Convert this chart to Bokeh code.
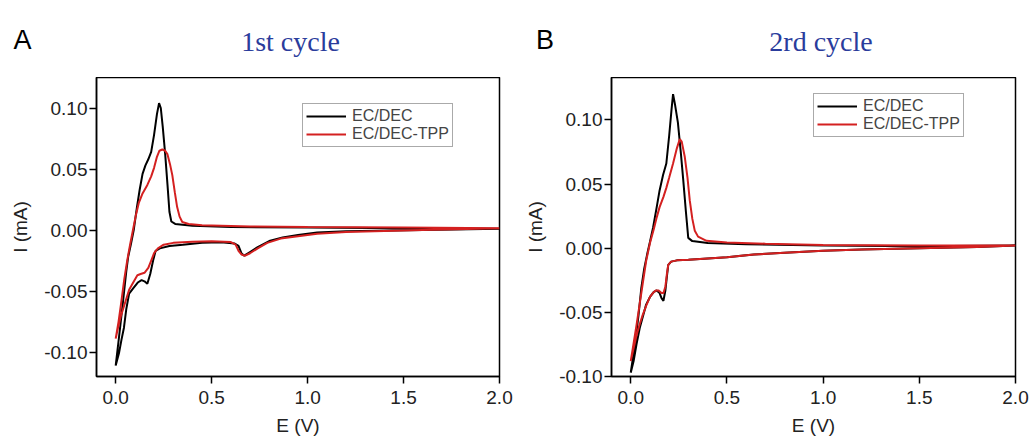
from bokeh.plotting import figure
from bokeh.layouts import row, column
from bokeh.models import Legend, LegendItem, FixedTicker, PrintfTickFormatter, Range1d
from bokeh.core.properties import value
from bokeh.embed import file_html
from bokeh.resources import INLINE

# ---------------- data ----------------
# Panel A, 1st cycle
A_black_E = [0.000, 0.012, 0.025, 0.040, 0.055, 0.065, 0.080, 0.094, 0.110, 0.125, 0.140, 0.155,
             0.170, 0.185, 0.200, 0.215, 0.226, 0.235, 0.245, 0.258, 0.270, 0.280, 0.290, 0.310,
             0.400, 0.600, 1.000, 1.500, 2.000,
             1.600, 1.200, 1.050, 0.950, 0.870, 0.800, 0.740, 0.700, 0.670, 0.655, 0.640, 0.620,
             0.550, 0.450, 0.350, 0.280, 0.230, 0.208, 0.195, 0.180, 0.165, 0.150, 0.135, 0.115,
             0.095, 0.070, 0.055, 0.043, 0.030, 0.017, 0.000]
A_black_I = [-0.111, -0.095, -0.077, -0.056, -0.034, -0.022, -0.011, 0.000, 0.018, 0.033, 0.046, 0.053,
             0.058, 0.064, 0.078, 0.095, 0.104, 0.100, 0.085, 0.062, 0.037, 0.015, 0.007, 0.005,
             0.0035, 0.0025, 0.002, 0.0015, 0.001,
             0.000, -0.001, -0.002, -0.004, -0.006, -0.009, -0.014, -0.018, -0.021, -0.019, -0.013, -0.011,
             -0.010, -0.0105, -0.012, -0.013, -0.015, -0.017, -0.025, -0.036, -0.044, -0.042, -0.041, -0.043,
             -0.047, -0.052, -0.065, -0.080, -0.090, -0.101, -0.111]
A_red_E = [0.000, 0.015, 0.030, 0.045, 0.060, 0.075, 0.090, 0.105, 0.120, 0.140, 0.165, 0.185,
           0.200, 0.215, 0.228, 0.243, 0.258, 0.270, 0.283, 0.295, 0.308, 0.320, 0.333, 0.347,
           0.380, 0.450, 0.700, 1.000, 1.500, 2.000,
           1.600, 1.200, 1.050, 0.950, 0.860, 0.790, 0.740, 0.700, 0.675, 0.655, 0.640, 0.625,
           0.600, 0.500, 0.400, 0.300, 0.250, 0.220, 0.200, 0.185, 0.170, 0.150, 0.130, 0.113,
           0.095, 0.070, 0.050, 0.026, 0.012, 0.000]
A_red_I = [-0.089, -0.075, -0.058, -0.040, -0.025, -0.012, 0.000, 0.012, 0.022, 0.030, 0.037, 0.044,
           0.051, 0.060, 0.065, 0.066, 0.065, 0.062, 0.054, 0.045, 0.031, 0.019, 0.011, 0.0066,
           0.005, 0.004, 0.003, 0.0025, 0.002, 0.0015,
           0.000, -0.0015, -0.003, -0.005, -0.007, -0.0105, -0.015, -0.019, -0.021, -0.020, -0.017, -0.012,
           -0.0098, -0.0092, -0.0095, -0.0105, -0.012, -0.015, -0.019, -0.025, -0.031, -0.035, -0.036, -0.037,
           -0.042, -0.049, -0.059, -0.071, -0.080, -0.089]

# Panel B, 2nd cycle
B_black_E = [0.000, 0.020, 0.040, 0.055, 0.070, 0.085, 0.100, 0.116, 0.135, 0.150, 0.168, 0.185,
             0.200, 0.212, 0.220, 0.230, 0.245, 0.260, 0.273, 0.287, 0.299, 0.320, 0.400, 0.600,
             1.000, 1.500, 2.000,
             1.800, 1.500, 1.200, 1.000, 0.800, 0.640, 0.500, 0.400, 0.300, 0.240, 0.210, 0.195,
             0.188, 0.180, 0.170, 0.160, 0.150, 0.135, 0.120, 0.100, 0.080, 0.060, 0.047, 0.030,
             0.015, 0.000]
B_black_I = [-0.097, -0.077, -0.053, -0.031, -0.016, -0.005, 0.005, 0.016, 0.032, 0.045, 0.057, 0.066,
             0.088, 0.108, 0.120, 0.112, 0.098, 0.075, 0.053, 0.028, 0.008, 0.0055, 0.004, 0.003,
             0.002, 0.0015, 0.002,
             0.001, 0.000, -0.001, -0.002, -0.0035, -0.005, -0.007, -0.008, -0.009, -0.0095, -0.0105, -0.013,
             -0.022, -0.033, -0.041, -0.039, -0.035, -0.033, -0.034, -0.038, -0.044, -0.055, -0.062, -0.075,
             -0.088, -0.097]
B_red_E = [0.000, 0.015, 0.030, 0.045, 0.060, 0.080, 0.100, 0.120, 0.135, 0.150, 0.170, 0.185,
           0.200, 0.220, 0.240, 0.255, 0.265, 0.281, 0.295, 0.307, 0.320, 0.333, 0.350, 0.394,
           0.500, 0.700, 1.000, 1.500, 2.000,
           1.800, 1.500, 1.200, 1.000, 0.800, 0.640, 0.500, 0.400, 0.300, 0.240, 0.210, 0.195,
           0.188, 0.180, 0.170, 0.160, 0.145, 0.130, 0.115, 0.100, 0.080, 0.060, 0.045, 0.030,
           0.015, 0.000]
B_red_I = [-0.088, -0.074, -0.060, -0.045, -0.030, -0.010, 0.004, 0.015, 0.024, 0.032, 0.040, 0.047,
           0.055, 0.066, 0.078, 0.085, 0.083, 0.071, 0.055, 0.037, 0.023, 0.0135, 0.009, 0.0057,
           0.0045, 0.0035, 0.0025, 0.002, 0.002,
           0.001, 0.000, -0.001, -0.002, -0.0035, -0.005, -0.007, -0.008, -0.009, -0.0095, -0.0105, -0.013,
           -0.020, -0.030, -0.035, -0.035, -0.033, -0.033, -0.035, -0.038, -0.045, -0.053, -0.060, -0.068,
           -0.078, -0.088]

series_names = ["EC/DEC", "EC/DEC-TPP"]
x_ticks = [0.0, 0.5, 1.0, 1.5, 2.0]
y_ticks = [-0.10, -0.05, 0.00, 0.05, 0.10]
titles = ["1st cycle", "2rd cycle"]
panel_letters = ["A", "B"]

BLACK = "#000000"
RED = "#d42020"
BLUE = "#2a3c9c"
HEADER_H = 77
TOTAL_W = 1031


def make_header():
    h = figure(width=TOTAL_W, height=HEADER_H, output_backend="svg", toolbar_location=None,
               x_range=Range1d(0, TOTAL_W), y_range=Range1d(HEADER_H, 0),
               x_axis_location=None, y_axis_location=None,
               min_border_left=0, min_border_right=0, min_border_top=0, min_border_bottom=0,
               background_fill_color="white", border_fill_color="white")
    h.grid.visible = False
    h.outline_line_color = None
    h.text(x=[290, 820.5], y=[41, 41], text=titles, text_align="center", text_baseline="alphabetic",
           text_font=value("Liberation Serif"), text_font_size="28px", text_color=BLUE)
    h.text(x=[22, 544.5], y=[39, 39], text=panel_letters, text_align="center", text_baseline="alphabetic",
           text_font=value("Liberation Sans"), text_font_size="27px", text_color="black")
    return h


def make_panel(bE, bI, rE, rI, yr, width, leg_loc):
    p = figure(width=width, height=441 - HEADER_H, output_backend="svg", toolbar_location=None,
               x_range=Range1d(-0.1, 2.0), y_range=Range1d(*yr),
               min_border_left=96, min_border_right=16, min_border_top=0, min_border_bottom=65,
               background_fill_color="white", border_fill_color="white")
    p.grid.visible = False
    p.outline_line_color = "black"
    p.outline_line_width = 1.5
    rb = p.line(bE, bI, line_color=BLACK, line_width=2)
    rr = p.line(rE, rI, line_color=RED, line_width=2)

    for ax in (p.xaxis[0], p.yaxis[0]):
        ax.axis_line_width = 1.5
        ax.major_tick_line_width = 1.5
        ax.major_tick_out = 7
        ax.major_tick_in = 0
        ax.minor_tick_line_color = None
        ax.major_label_text_font = "Liberation Sans"
        ax.major_label_text_font_size = "19px"
        ax.major_label_text_color = "#222222"
        ax.axis_label_text_font = "Liberation Sans"
        ax.axis_label_text_font_size = "19px"
        ax.axis_label_text_font_style = "normal"
        ax.axis_label_text_color = "#222222"
    p.xaxis[0].major_label_standoff = 7
    p.yaxis[0].major_label_standoff = 2
    p.xaxis[0].ticker = FixedTicker(ticks=x_ticks)
    p.yaxis[0].ticker = FixedTicker(ticks=y_ticks)
    p.xaxis[0].formatter = PrintfTickFormatter(format="%.1f")
    p.yaxis[0].formatter = PrintfTickFormatter(format="%.2f")
    p.xaxis[0].axis_label = "E (V)"
    p.yaxis[0].axis_label = "I (mA)"
    p.xaxis[0].axis_label_standoff = 8
    p.yaxis[0].axis_label_standoff = 10

    legend = Legend(items=[LegendItem(label=series_names[0], renderers=[rb]),
                           LegendItem(label=series_names[1], renderers=[rr])],
                    location=leg_loc, padding=3, spacing=0, margin=0,
                    glyph_width=40, glyph_height=18, label_height=18, label_standoff=6,
                    label_text_font="Liberation Sans", label_text_font_size="16px",
                    border_line_color="#555555", border_line_width=1,
                    background_fill_color="white", background_fill_alpha=1.0)
    p.add_layout(legend)
    return p


header = make_header()
pA = make_panel(A_black_E, A_black_I, A_red_E, A_red_I, (-0.12, 0.125), 515, (206, 229))
pB = make_panel(B_black_E, B_black_I, B_red_E, B_red_I, (-0.10, 0.133), 516, (202, 239))

layout = column(header, row(pA, pB))
open("out.html", "w").write(file_html(layout, INLINE))
